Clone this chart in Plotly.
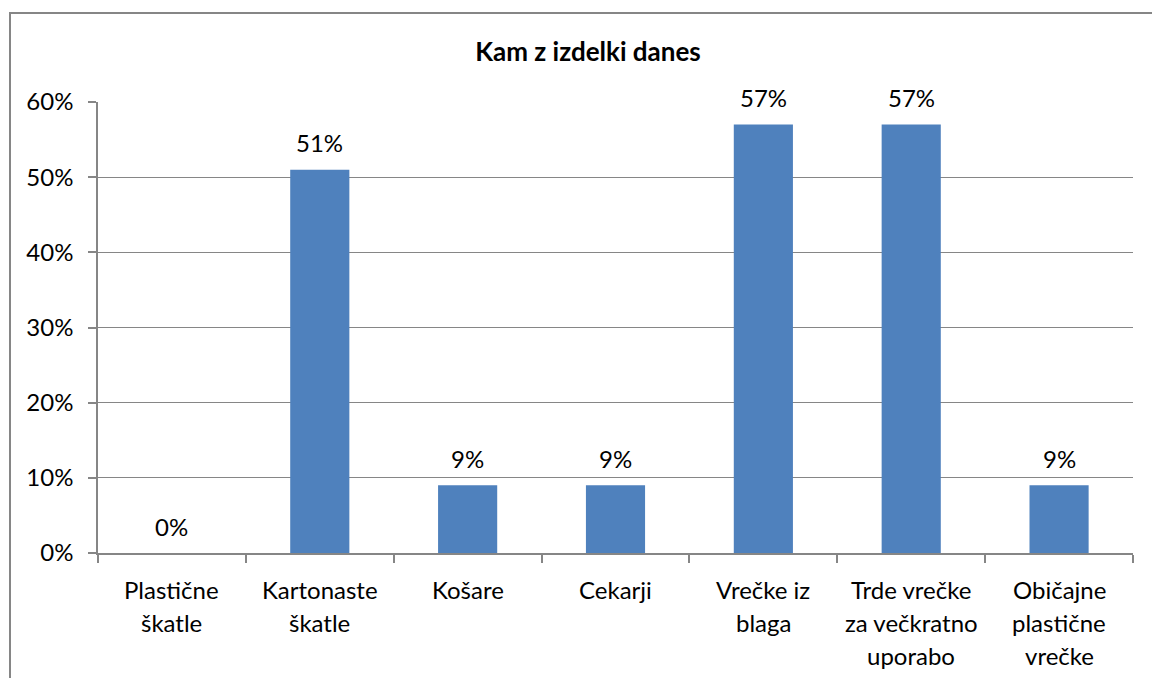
import plotly.graph_objects as go

categories = ["Plastične\nškatle", "Kartonaste\nškatle", "Košare", "Cekarji",
              "Vrečke iz\nblaga", "Trde vrečke\nza večkratno\nuporabo", "Običajne\nplastične\nvrečke"]
values = [0.00, 0.51, 0.09, 0.09, 0.57, 0.57, 0.09]
title = "Kam z izdelki danes"
y_ticks = [0, 0.1, 0.2, 0.3, 0.4, 0.5, 0.6]

FONT = "Lato, 'Open Sans', sans-serif"
GRAY = "#868686"
FS = 24

x_keys = [c.replace("\n", " ") for c in categories]

fig = go.Figure(go.Bar(
    x=x_keys, y=values, width=0.4,
    marker=dict(color="#4F81BD", line=dict(width=0)),
    hoverinfo="x+y",
))

annotations = []
for key, v in zip(x_keys, values):
    annotations.append(dict(
        x=key, xref="x", y=v, yref="y", yanchor="middle", yshift=27,
        text=f"{v:.0%}", showarrow=False,
        font=dict(family=FONT, size=FS, color="black")))
for key, cat in zip(x_keys, categories):
    for i, line in enumerate(cat.split("\n")):
        annotations.append(dict(
            x=key, xref="x", y=0, yref="paper", yanchor="middle",
            yshift=-36 - 33 * i, text=line, showarrow=False,
            font=dict(family=FONT, size=FS, color="black")))

fig.update_layout(
    width=1152, height=678,
    margin=dict(l=98, r=19, t=102, b=125),
    paper_bgcolor="white", plot_bgcolor="white",
    title=dict(text="<b>" + title + "</b>", x=(588 - 98) / 1035, xref="paper",
               xanchor="center", y=1 - 52 / 678, yanchor="middle",
               font=dict(family=FONT, size=26, color="black")),
    showlegend=False,
    annotations=annotations,
    xaxis=dict(type="category", showticklabels=False, tickson="boundaries",
               ticks="outside", ticklen=8, tickcolor=GRAY, tickwidth=1.5,
               showline=True, linecolor=GRAY, linewidth=1.5, showgrid=False,
               mirror=False),
    yaxis=dict(range=[0, 0.6], tickvals=y_ticks, tickformat=".0%",
               ticks="outside", ticklen=8, tickcolor=GRAY, tickwidth=1.5,
               showline=True, linecolor=GRAY, linewidth=1.5,
               showgrid=True, gridcolor=GRAY, gridwidth=1.2,
               zeroline=False, ticklabelstandoff=10,
               tickfont=dict(family=FONT, size=FS, color="black")),
    shapes=[dict(type="rect", xref="paper", yref="paper",
                 x0=(10 - 98) / 1035, x1=(1170 - 98) / 1035,
                 y0=(553 - 700) / 451, y1=1 + (102 - 13) / 451,
                 line=dict(color=GRAY, width=2), layer="below")],
)

fig.write_html("out.html", config={"displayModeBar": False},
               post_script="document.body.style.margin='0';document.body.style.overflow='hidden';")
